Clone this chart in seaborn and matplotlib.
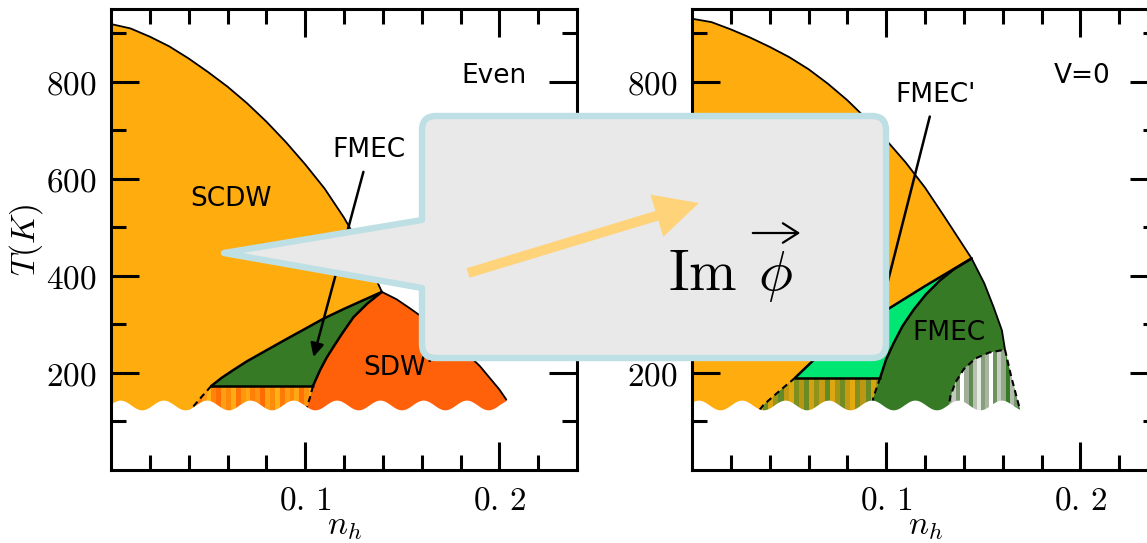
import numpy as np
import matplotlib
matplotlib.use("Agg")
import matplotlib.pyplot as plt
import seaborn as sns
from matplotlib.patches import Polygon, PathPatch, FancyArrow, FancyArrowPatch
from matplotlib.path import Path
from matplotlib import transforms as mtransforms
from matplotlib.colors import to_rgb

# ---------------- phase boundaries: "Even" panel ----------------
even_dome_x = [0.0, 0.01, 0.02, 0.03, 0.04, 0.05, 0.06, 0.07, 0.08, 0.09, 0.10, 0.11, 0.12, 0.13, 0.1395]
even_dome_T = [919, 910, 893, 873, 848, 820, 790, 756, 718, 676, 630, 580, 520, 450, 367]
even_sdw_x = [0.1395, 0.147, 0.154, 0.161, 0.168, 0.1755, 0.1833, 0.190, 0.195, 0.2, 0.2036]
even_sdw_T = [367, 352, 333, 313, 290, 266, 240, 214, 190, 166, 145]
even_fm_top_x = [0.0516, 0.057, 0.063, 0.07, 0.0802, 0.09, 0.10, 0.1095, 0.12, 0.13, 0.1395]
even_fm_top_T = [173, 190, 206, 224, 247, 269, 291, 312, 332, 350, 367]
even_fm_sdw_x = [0.104, 0.1077, 0.111, 0.1146, 0.119, 0.1249, 0.132, 0.1395]
even_fm_sdw_T = [173, 206, 231, 254, 281, 315, 343, 367]
even_dash_left_x = [0.0516, 0.0467, 0.0416, 0.039]
even_dash_left_T = [173, 151, 127, 112]
even_dash_right_x = [0.104, 0.1026, 0.1005, 0.099]
even_dash_right_T = [173, 151, 124, 110]

# ---------------- phase boundaries: "V=0" panel ----------------
v0_dome_x = [0.0, 0.01, 0.02, 0.03, 0.04, 0.05, 0.06, 0.07, 0.08, 0.09, 0.10, 0.11, 0.12, 0.13, 0.144]
v0_dome_T = [930, 923, 908, 891, 872, 851, 826, 796, 762, 723, 680, 634, 582, 522, 436]
v0_outer_x = [0.144, 0.1505, 0.1553, 0.1596, 0.1612]
v0_outer_T = [436, 385, 336, 288, 248]
v0_outer_dash_x = [0.1612, 0.1645, 0.1684, 0.1700]
v0_outer_dash_T = [248, 191, 132, 110]
v0_fmp_top_x = [0.0531, 0.0617, 0.070, 0.080, 0.090, 0.1015, 0.12, 0.144]
v0_fmp_top_T = [190, 223, 253, 281, 306, 333, 379, 436]
v0_fm_left_x = [0.0969, 0.1, 0.1038, 0.1085, 0.1141, 0.1205, 0.1278, 0.135, 0.144]
v0_fm_left_T = [190, 228, 261, 297, 330, 362, 391, 414, 436]
v0_dash_left_x = [0.0531, 0.0445, 0.0368, 0.034]
v0_dash_left_T = [190, 161, 134, 120]
v0_dash_mid_x = [0.0969, 0.0935, 0.092]
v0_dash_mid_T = [190, 151, 120]
v0_dash_inner_x = [0.132, 0.133, 0.1356, 0.140, 0.146, 0.153, 0.1612]
v0_dash_inner_T = [120, 151, 180, 208, 230, 242, 248]

# ticks
x_major = [0.1, 0.2]
x_major_labels = [r"$0.\,1$", r"$0.\,2$"]
x_minor = [0.02, 0.04, 0.06, 0.08, 0.12, 0.14, 0.16, 0.18, 0.22]
y_major = [200, 400, 600, 800]
y_major_labels = [r"$200$", r"$400$", r"$600$", r"$800$"]
y_minor = [100, 300, 500, 700, 900]

# stripe fills of the coexistence strips
even_stripes = ['#ff8c0c', '#ffa312', '#ff7a06', '#ff9a10', '#ffb316', '#ff8408', '#ff6f03',
                '#ff9e12', '#ff8a0a', '#ffac14', '#ff7505', '#ff960e', '#ffa713', '#ff8007',
                '#ff9210', '#ff6c02', '#ffa010', '#ff8b0b', '#ffb015', '#ff7906', '#ff9c11',
                '#ff870a', '#ffa813', '#ff7104', '#ff950f', '#ffab13']
v0_stripes_a = ['#c79c13', '#6f8c22', '#d9a511', '#9a9419', '#5e8a27', '#c49a14', '#e0a810',
                '#7d8f1f', '#b59716', '#6a8b23', '#d2a212', '#8f921b', '#c99d13', '#5f8a26',
                '#dca710', '#a49518', '#718d21', '#c39a14', '#e3a90f', '#838f1e', '#ba9815',
                '#668b24', '#d5a311', '#9e9419']
v0_stripes_b = ['#a4ae9c', '#c3cbbd', '#7d9a72', '#ffffff', '#9fae98', '#5f8b52', '#b8c1b1',
                '#e8ebe5', '#86a07b', '#a9b4a2', '#ffffff', '#6c9260', '#c7cec1', '#94a88c',
                '#377a26', '#b2bcab', '#7a9870', '#377a26']

C_SCDW = '#FFAC0E'
C_SDW = '#FF610A'
C_FMEC = '#377A26'
C_FMECP = '#00E673'

sns.set_style("ticks")
plt.rcParams['font.family'] = ['DejaVu Sans']
plt.rcParams['mathtext.fontset'] = 'cm'
plt.rcParams.update({'text.color': 'black', 'axes.labelcolor': 'black',
                     'xtick.color': 'black', 'ytick.color': 'black'})

W, H = 1147, 543
fig = plt.figure(figsize=(W / 100, H / 100), dpi=100)
ax_even = fig.add_axes([111 / W, 73 / H, 466 / W, 461 / H])
ax_v0 = fig.add_axes([692 / W, 73 / H, 466 / W, 461 / H])

BOTTOM = -20


def region(ax, xs, ts, color, z=1):
    ax.add_patch(Polygon(np.column_stack([xs, ts]), closed=True, facecolor=color,
                         edgecolor='none', zorder=z))


def stripes(ax, xs, ts, colors, z=1.5):
    poly = Polygon(np.column_stack([xs, ts]), closed=True, transform=ax.transData)
    rgb = np.array([[to_rgb(c) for c in colors]])
    im = ax.imshow(rgb, extent=[min(xs), max(xs), min(ts), max(ts)], aspect='auto',
                   interpolation='nearest', zorder=z)
    im.set_clip_path(poly)


def boundary(ax, xs, ts, lw=1.8, ls='-'):
    sns.lineplot(x=xs, y=ts, ax=ax, sort=False, estimator=None, color='k', lw=lw,
                 linestyle=ls, zorder=2)


def wave_cover(ax, phase):
    # decorative break in the low-temperature region
    xw = np.linspace(0, 0.24, 600)
    tw = 134 + 10 * np.cos(2 * np.pi * (xw - phase) / 0.0223)
    ax.fill_between(xw, BOTTOM, tw, color='white', lw=0, zorder=2.2)


def style_axes(ax, with_ylabel):
    ax.set_axisbelow(False)
    ax.set_xlim(0, 0.24)
    ax.set_ylim(0, 950)
    ax.set_xticks(x_major)
    ax.set_xticklabels(x_major_labels)
    ax.set_xticks(x_minor, minor=True)
    ax.set_yticks(y_major)
    ax.set_yticklabels(y_major_labels)
    ax.set_yticks(y_minor, minor=True)
    ax.tick_params(which='both', direction='in', top=True, right=True, width=2.2,
                   color='k', labelcolor='k', labelsize=24, pad=10)
    ax.tick_params(which='major', length=20)
    ax.tick_params(which='minor', length=11)
    for s in ax.spines.values():
        s.set_linewidth(2.2)
        s.set_color('k')
        s.set_visible(True)
    ax.set_xlabel(r"$n_h$", fontsize=24, color='k')
    ax.xaxis.set_label_coords(0.5, -0.085)
    if with_ylabel:
        ax.set_ylabel(r"$T(K)$", fontsize=24, color='k')
        ax.yaxis.set_label_coords(-0.142, 0.5)
    ax.set_facecolor('white')


# ---------------- Even panel ----------------
ax = ax_even
region(ax, even_dome_x + [even_dome_x[-1], 0.0], even_dome_T + [BOTTOM, BOTTOM], C_SCDW)
sdw_x = even_dash_right_x[::-1] + even_fm_sdw_x + even_sdw_x + [even_sdw_x[-1], even_dash_right_x[-1]]
sdw_T = even_dash_right_T[::-1] + even_fm_sdw_T + even_sdw_T + [BOTTOM, BOTTOM]
region(ax, sdw_x, sdw_T, C_SDW)
region(ax, even_fm_top_x + even_fm_sdw_x[::-1], even_fm_top_T + even_fm_sdw_T[::-1], C_FMEC)
stripes(ax, even_dash_left_x[::-1] + even_dash_right_x + [even_dash_right_x[-1], even_dash_left_x[-1]],
        even_dash_left_T[::-1] + even_dash_right_T + [BOTTOM, BOTTOM], even_stripes)

boundary(ax, even_dome_x + even_sdw_x[1:], even_dome_T + even_sdw_T[1:], lw=1.3)
boundary(ax, even_fm_top_x, even_fm_top_T)
boundary(ax, even_fm_sdw_x, even_fm_sdw_T)
boundary(ax, [even_fm_top_x[0], even_fm_sdw_x[0]], [even_fm_top_T[0], even_fm_sdw_T[0]])
boundary(ax, even_dash_left_x, even_dash_left_T, lw=1.5, ls=(0, (3, 2)))
boundary(ax, even_dash_right_x, even_dash_right_T, lw=1.5, ls=(0, (3, 2)))
wave_cover(ax, 0.0493)

ax.text(0.062, 558, "SCDW", fontsize=19, color='k', ha='center', va='center', zorder=4)
ax.text(0.1974, 812, "Even", fontsize=19, color='k', ha='center', va='center', zorder=4)
ax.text(0.148, 210, "SDW'", fontsize=19, color='k', ha='center', va='center', zorder=4)
ax.annotate("FMEC", xy=(0.1043, 233), xytext=(0.133, 659), fontsize=19, color='k',
            ha='center', va='center', zorder=4,
            arrowprops=dict(arrowstyle='-|>', color='k', lw=1.8, shrinkA=4, shrinkB=0,
                            mutation_scale=20))
style_axes(ax, True)

# ---------------- V=0 panel ----------------
ax = ax_v0
region(ax, v0_dome_x + [v0_dome_x[-1], 0.0], v0_dome_T + [BOTTOM, BOTTOM], C_SCDW)
fm_x = v0_dash_mid_x[::-1] + v0_fm_left_x + v0_outer_x[1:] + v0_outer_dash_x[1:] + \
    [v0_outer_dash_x[-1], v0_dash_mid_x[-1]]
fm_T = v0_dash_mid_T[::-1] + v0_fm_left_T + v0_outer_T[1:] + v0_outer_dash_T[1:] + [BOTTOM, BOTTOM]
region(ax, fm_x, fm_T, C_FMEC)
region(ax, v0_fmp_top_x + v0_fm_left_x[::-1], v0_fmp_top_T + v0_fm_left_T[::-1], C_FMECP)
stripes(ax, v0_dash_left_x[::-1] + v0_dash_mid_x + [v0_dash_mid_x[-1], v0_dash_left_x[-1]],
        v0_dash_left_T[::-1] + v0_dash_mid_T + [BOTTOM, BOTTOM], v0_stripes_a)
stripes(ax, v0_dash_inner_x + v0_outer_dash_x[1:] + [v0_outer_dash_x[-1], v0_dash_inner_x[0]],
        v0_dash_inner_T + v0_outer_dash_T[1:] + [BOTTOM, BOTTOM], v0_stripes_b)

boundary(ax, v0_dome_x + v0_outer_x[1:], v0_dome_T + v0_outer_T[1:], lw=1.3)
boundary(ax, v0_fmp_top_x, v0_fmp_top_T)
boundary(ax, v0_fm_left_x, v0_fm_left_T)
boundary(ax, [v0_fmp_top_x[0], v0_fm_left_x[0]], [v0_fmp_top_T[0], v0_fm_left_T[0]])
for dx, dt in [(v0_dash_left_x, v0_dash_left_T), (v0_dash_mid_x, v0_dash_mid_T),
               (v0_dash_inner_x, v0_dash_inner_T), (v0_outer_dash_x, v0_outer_dash_T)]:
    boundary(ax, dx, dt, lw=1.5, ls=(0, (3, 2)))
wave_cover(ax, 0.0479)

ax.text(0.201, 812, "V=0", fontsize=19, color='k', ha='center', va='center', zorder=4)
ax.text(0.1325, 283, "FMEC", fontsize=19, color='k', ha='center', va='center', zorder=4)
ax.annotate("FMEC'", xy=(0.0927, 260), xytext=(0.1253, 773), fontsize=19, color='k',
            ha='center', va='center', zorder=4,
            arrowprops=dict(arrowstyle='-|>', color='k', lw=1.8, shrinkA=4, shrinkB=0,
                            mutation_scale=20))
style_axes(ax, False)

# ---------------- callout overlay (figure pixel coordinates, origin top-left) ----------------
pix = mtransforms.Affine2D().scale(1 / W, -1 / H).translate(0, 1) + fig.transFigure
L, T, R, B, r = 422, 116, 886, 358, 14
tip, base_top, base_bot = (224, 253), 220, 288
verts = [(L + r, T), (R - r, T), (R, T), (R, T + r), (R, B - r), (R, B), (R - r, B),
         (L + r, B), (L, B), (L, B - r), (L, base_bot), tip, (L, base_top), (L, T + r),
         (L, T), (L + r, T), (L + r, T)]
codes = [Path.MOVETO, Path.LINETO, Path.CURVE3, Path.CURVE3, Path.LINETO, Path.CURVE3,
         Path.CURVE3, Path.LINETO, Path.CURVE3, Path.CURVE3, Path.LINETO, Path.LINETO,
         Path.LINETO, Path.LINETO, Path.CURVE3, Path.CURVE3, Path.CLOSEPOLY]
callout = PathPatch(Path(verts, codes), facecolor='#E9E9E9', edgecolor='#BEE0E4', lw=4.6,
                    joinstyle='round', transform=pix, zorder=10)
fig.add_artist(callout)

arrow = FancyArrow(468, 273, 231, -70, width=10, head_width=44, head_length=44,
                   length_includes_head=True, facecolor='#FFD37A', edgecolor='none',
                   transform=pix, zorder=11)
fig.add_artist(arrow)

fig.text(668, 290, r"$\mathrm{Im}\;\,\phi$", transform=pix, fontsize=41, color='k',
         ha='left', va='baseline', zorder=12)
vec_arrow = FancyArrowPatch((750, 233), (803, 233), transform=pix,
                            arrowstyle='->,head_length=0.55,head_width=0.35',
                            mutation_scale=20, lw=1.6, color='k', zorder=12)
fig.add_artist(vec_arrow)

fig.savefig("out.png", dpi=100)
